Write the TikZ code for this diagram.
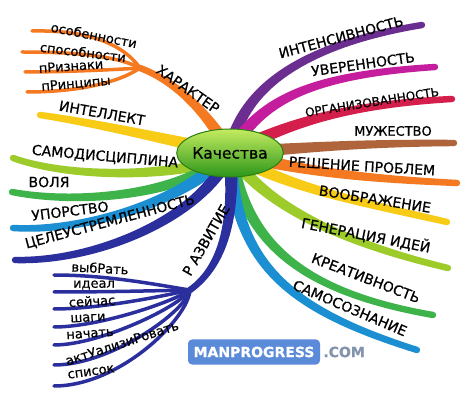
\documentclass[tikz,border=0pt]{standalone}
\usepackage{fontspec}
\setmainfont{DejaVu Sans}[FakeBold=0.6]
\usetikzlibrary{shapes.geometric,backgrounds,positioning,calc}

\definecolor{cpurple}{HTML}{6B2D8F}
\definecolor{cmagenta}{HTML}{C41E9E}
\definecolor{ccrimson}{HTML}{D41F4D}
\definecolor{cbrown}{HTML}{B0643C}
\definecolor{corange}{HTML}{F47920}
\definecolor{cyellow}{HTML}{F7CB16}
\definecolor{clime}{HTML}{9CCB2A}
\definecolor{cgreen}{HTML}{3DB34A}
\definecolor{ccyan}{HTML}{1B8FD2}
\definecolor{cnavy}{HTML}{2B2F9E}
\definecolor{cbadge}{HTML}{5A8AD8}
\definecolor{ccom}{HTML}{8494AC}
\definecolor{cgtop}{HTML}{C4EC60}
\definecolor{cgbot}{HTML}{2C961A}
\definecolor{cgline}{HTML}{2E7D14}

% tapered branch: colour, start, control 1, control 2, end
\newcommand\qbranch[5]{%
  \fill[#1] ($(#2)!7pt!90:(#3)$) .. controls ($(#3)!5pt!90:(#4)$) and ($(#4)!4pt!-90:(#3)$) .. ($(#5)!3.2pt!-90:(#4)$)
    -- ($(#5)!3.2pt!90:(#4)$) .. controls ($(#4)!4pt!90:(#3)$) and ($(#3)!5pt!-90:(#4)$) .. ($(#2)!7pt!-90:(#3)$) -- cycle;
  \fill[#1] (#5) circle (3.2pt);}

\begin{document}
\begin{tikzpicture}
  [x=1pt,y=-1pt,
   every node/.style={font=\fontsize{14}{16}\selectfont,inner sep=0pt},
   sb/.style={line width=3.5pt,line cap=round},
   small/.style={font=\fontsize{13}{15}\selectfont}]

  % centre
  \node[ellipse,minimum width=106pt,minimum height=48pt,
        top color=cgtop,bottom color=cgbot,
        draw=cgline,line width=1pt,font=\fontsize{15.5}{17}\selectfont] (q) at (230,153) {Качества};

  % free ends of the branches
  \coordinate (e1) at (422,25);
  \coordinate (e2) at (435,67);
  \coordinate (e3) at (452,99);
  \coordinate (e4) at (454,143);
  \coordinate (e5) at (457,183);
  \coordinate (e6) at (447,222);
  \coordinate (e7) at (448,268);
  \coordinate (e8) at (433,315);
  \coordinate (e9) at (417,350);
  \coordinate (hj) at (140,68);
  \coordinate (w1) at (40,115);
  \coordinate (w2) at (13,158);
  \coordinate (w3) at (12,192);
  \coordinate (w4) at (13,228);
  \coordinate (w5) at (15,260);
  \coordinate (rj) at (190,290);

  \begin{pgfonlayer}{background}
    \fill[white] (0,0) rectangle (474,403);
    % right side
    \qbranch{cpurple}{q.center}{240,90}{300,45}{e1}
    \qbranch{cmagenta}{q.center}{260,100}{310,75}{e2}
    \qbranch{ccrimson}{q.center}{285,125}{340,105}{e3}
    \qbranch{cbrown}{q.center}{300,148}{360,143}{e4}
    \qbranch{corange}{q.center}{300,170}{350,178}{e5}
    \qbranch{cyellow}{q.center}{280,185}{350,200}{e6}
    \qbranch{clime}{q.center}{260,200}{330,240}{e7}
    \qbranch{cgreen}{q.center}{245,235}{290,290}{e8}
    \qbranch{ccyan}{q.center}{235,265}{290,310}{e9}
    % left side
    \qbranch{corange}{q.center}{215,125}{185,85}{hj}
    \qbranch{cyellow}{q.center}{170,140}{90,122}{w1}
    \qbranch{clime}{q.center}{200,175}{80,182}{w2}
    \qbranch{cgreen}{q.center}{185,195}{80,205}{w3}
    \qbranch{ccyan}{q.center}{180,205}{80,232}{w4}
    \qbranch{cnavy}{q.center}{205,215}{100,262}{w5}
    \qbranch{cnavy}{q.center}{235,215}{225,265}{rj}

    % character sub-branches
    \draw[sb,corange] (hj) .. controls (120,40) and (80,30) .. (32,31);
    \draw[sb,corange] (hj) .. controls (115,55) and (70,52) .. (22,52);
    \draw[sb,corange] (hj) .. controls (110,70) and (60,72) .. (25,72);
    \draw[sb,corange] (hj) .. controls (115,85) and (70,92) .. (27,92);

    % development sub-branches
    \foreach \c/\d/\y in {160/110/275, 160/110/292, 165/100/309, 175/100/327,
                          180/100/345, 185/110/365, 188/120/386}
      \draw[sb,cnavy] (rj) .. controls (\c,{290+(\y-290)*0.3}) and (\d,\y) .. (54,\y);
  \end{pgfonlayer}

  % labels, right
  \node[rotate=15]  (t1) at (341,37)  {ИНТЕНСИВНОСТЬ};
  \node[rotate=8]   (t2) at (363,64)  {УВЕРЕННОСТЬ};
  \node[rotate=9,font=\fontsize{12}{14}\selectfont] (t3) at (372,102) {ОРГАНИЗОВАННОСТЬ};
  \node[font=\fontsize{13}{15}\selectfont] (t4) at (393,131) {МУЖЕСТВО};
  \node[rotate=-3.5] (t5) at (362,166) {РЕШЕНИЕ ПРОБЛЕМ};
  \node[rotate=-9]  (t6) at (375,199) {ВООБРАЖЕНИЕ};
  \node[rotate=-11] (t7) at (366,235) {ГЕНЕРАЦИЯ ИДЕЙ};
  \node[rotate=-21] (t8) at (366,278) {КРЕАТИВНОСТЬ};
  \node[rotate=-23] (t9) at (350,308) {САМОСОЗНАНИЕ};

  % labels, left
  \node[rotate=-35] (l0) at (188,89)  {ХАРАКТЕР};
  \node[rotate=-11,small] (h1) at (94,35)  {особенности};
  \node[rotate=-7,small]  (h2) at (83,52)  {способности};
  \node[rotate=4,small]   (h3) at (71,66)  {пРизнаки};
  \node[rotate=5,small]   (h4) at (76,84)  {пРинципы};
  \node[rotate=-10] (l1) at (102,113) {ИНТЕЛЛЕКТ};
  \node[rotate=-5]  (l2) at (105,157) {САМОДИСЦИПЛИНА};
  \node             (l3) at (49,182)  {ВОЛЯ};
  \node[rotate=7]   (l4) at (70,211)  {УПОРСТВО};
  \node[rotate=15]  (l5) at (110,222) {ЦЕЛЕУСТРЕМЛЕННОСТЬ};
  \node[rotate=60]  (l6) at (206,240) {Р АЗВИТИЕ};

  % development leaves
  \node[rotate=-3,small] (r1) at (100,268) {выбРать};
  \node[small]           (r2) at (94,285)  {идеал};
  \node[rotate=3,small]  (r3) at (92,301)  {сейчас};
  \node[rotate=3,small]  (r4) at (88,318)  {шаги};
  \node[rotate=4,small]  (r5) at (90,334)  {начать};
  \node[rotate=18,small] (r6) at (122,343) {актУализиРовать};
  \node[rotate=8,small]  (r7) at (91,372)  {список};

  % badge
  \node[fill=cbadge,rounded corners=4pt,minimum width=132pt,minimum height=25pt,
        text=white,font=\bfseries\fontsize{14}{16}\selectfont] (mp) at (254,352) {MANPROGRESS};
  \node[right=3pt of mp,text=ccom,font=\bfseries\fontsize{14}{16}\selectfont] (com) {.COM};
\end{tikzpicture}
\end{document}
